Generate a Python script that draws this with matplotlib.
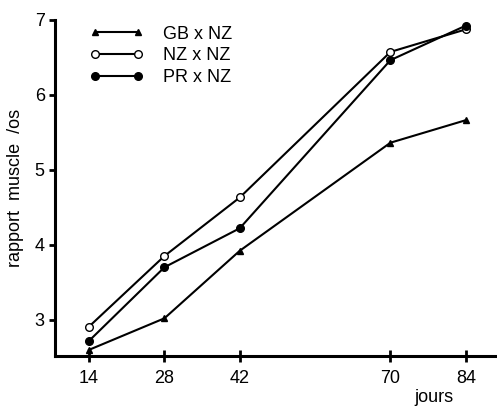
import matplotlib.pyplot as plt
import numpy as np

plt.rcParams['font.family'] = ['Liberation Sans', 'DejaVu Sans']

jours = [14, 28, 42, 70, 84]
gb_nz = [2.60, 3.02, 3.92, 5.36, 5.66]
nz_nz = [2.91, 3.85, 4.63, 6.57, 6.87]
pr_nz = [2.72, 3.70, 4.22, 6.46, 6.92]

fig = plt.figure(figsize=(4.97, 4.09), dpi=100)
ax = fig.add_axes([0.111, 0.13, 0.889, 0.822])

ax.plot(jours, gb_nz, '-^', color='black', lw=1.5, ms=5, label='GB x NZ')
ax.plot(jours, nz_nz, '-o', color='black', mfc='white', lw=1.5, ms=5.5, label='NZ x NZ')
ax.plot(jours, pr_nz, '-o', color='black', lw=1.5, ms=5.5, label='PR x NZ')

ax.set_xlim(7.7, 89.8)
ax.set_ylim(2.52, 7.0)
ax.set_xticks(jours)
ax.set_yticks([3, 4, 5, 6, 7])

for s in ['top', 'right']:
    ax.spines[s].set_visible(False)
for s in ['left', 'bottom']:
    ax.spines[s].set_linewidth(2.2)
ax.tick_params(axis='both', labelsize=13, width=2, length=4)
ax.tick_params(axis='x', direction='inout', length=8, pad=6)

ax.set_ylabel('rapport  muscle  /os', fontsize=13, labelpad=8)
ax.text(84 - 6, 2.52 - 0.55, 'jours', fontsize=13, ha='center', va='center')

ax.legend(loc='upper left', bbox_to_anchor=(0.04, 1.03), frameon=False,
          numpoints=2, handlelength=3.0, fontsize=13, labelspacing=0.25,
          handletextpad=1.1)

fig.savefig('out.png', dpi=100)
